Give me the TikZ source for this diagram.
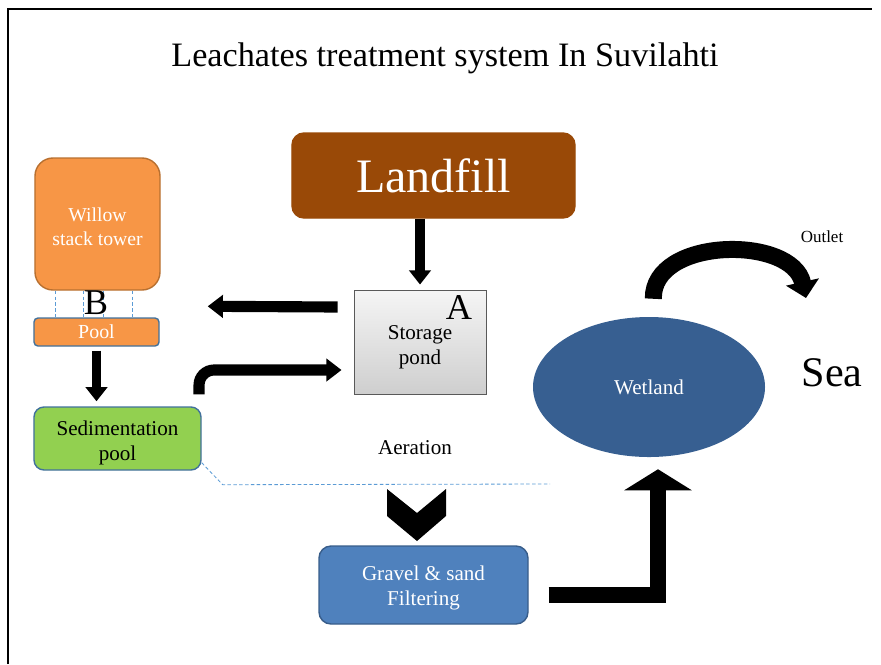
\documentclass[tikz,border=0pt]{standalone}
\usepackage{fontspec}
\setmainfont{Liberation Serif}
\usetikzlibrary{arrows.meta,shapes.geometric}
\definecolor{landbrown}{RGB}{153,73,7}
\definecolor{willoworange}{RGB}{247,150,70}
\definecolor{willowedge}{RGB}{184,112,48}
\definecolor{sedgreen}{RGB}{146,208,80}
\definecolor{edgeblue}{RGB}{65,113,156}
\definecolor{gravelblue}{RGB}{79,129,189}
\definecolor{graveledge}{RGB}{56,93,138}
\definecolor{wetblue}{RGB}{55,95,145}
\definecolor{dashblue}{RGB}{91,155,213}

\begin{document}
\begin{tikzpicture}[x=0.03cm, y=-0.03cm,
	stage node/.style={draw, line width=1.2pt, align=center, inner sep=0pt,
		font=\fontsize{18}{21.5}\selectfont},
	thick arrow/.style={line width=8.5pt, -{Triangle[width=18pt,length=12pt]}},
	dash line/.style={dashblue, line width=0.7pt, dash pattern=on 3pt off 2pt},
	big letter/.style={font=\fontsize{31}{31}\selectfont}]

	\useasboundingbox (0,0) rectangle (881,664);
	\draw[line width=2.5pt] (8,664) -- (8,9) -- (872,9);

	\node (title) at (445,58) {\fontsize{29.2}{32}\selectfont Leachates treatment system In Suvilahti};

	\node[stage node, fill=landbrown, draw=landbrown, text=white, rounded corners=0.36cm,
		minimum width=8.49cm, minimum height=2.55cm, font=\fontsize{41}{41}\selectfont]
		(landfill) at (433.5,175.5) {Landfill};
	\node[stage node, top color=gray!8, bottom color=gray!38, draw=gray!70!black, line width=0.8pt,
		minimum width=3.96cm, minimum height=3.12cm] (storage) at (420,342) {\rule{0pt}{21pt}Storage\\pond};
	\node[big letter] (a) at (459,308) {A};

	\node[stage node, fill=willoworange, draw=willowedge, text=white, rounded corners=0.54cm,
		minimum width=3.75cm, minimum height=3.96cm, font=\fontsize{16.8}{20.5}\selectfont]
		(willow) at (97.5,224) {\rule{0pt}{16pt}Willow\\stack tower};
	\node[stage node, fill=willoworange, draw=edgeblue, text=white, rounded corners=0.12cm,
		minimum width=3.75cm, minimum height=0.84cm, font=\fontsize{17}{17}\selectfont]
		(pool) at (96.5,332) {Pool};
	\foreach \x in {55,83,103,132}
		\draw[dash line] (willow.south -| \x,0) -- (pool.north -| \x,0);
	\node[big letter] (b) at (96,303) {B};

	\node[stage node, fill=sedgreen, draw=edgeblue, rounded corners=0.3cm,
		minimum width=5.01cm, minimum height=1.89cm] (sed) at (117.5,438.5) {\rule{0pt}{20pt}Sedimentation\\pool};

	\node[font=\fontsize{18}{18}\selectfont] (aeration) at (415,448) {Aeration};
	\draw[dash line] ([yshift=0.24cm]sed.south east) -- ++(21,22) -- (550,484);

	% aeration chevron
	\fill (387,489) -- (417,513) -- (446,489) -- (446,516) -- (417,541) -- (387,516) -- cycle;

	\node[stage node, fill=gravelblue, draw=graveledge, text=white, rounded corners=0.36cm,
		minimum width=6.27cm, minimum height=2.34cm] (gravel) at (423.5,585) {\rule{0pt}{18pt}Gravel \& sand\\Filtering};

	\node[ellipse, fill=wetblue, text=white, minimum width=6.96cm, minimum height=4.2cm,
		font=\fontsize{18}{18}\selectfont] (wetland) at (649,387) {Wetland};

	\node[font=\fontsize{14.5}{14.5}\selectfont] (outlet) at (822,237) {Outlet};
	\node[font=\fontsize{36}{36}\selectfont] (sea) at (832,373) {Sea};

	% flows
	\draw[thick arrow] (landfill.south -| storage.north) -- ([yshift=0.15cm]storage.north);
	\draw[thick arrow, line width=9.5pt, -{Triangle[width=19pt,length=13pt]}]
		([xshift=-0.48cm,yshift=1.05cm]storage.west) -- ([xshift=1.44cm,yshift=0.33cm]pool.north east);
	\draw[thick arrow, line width=9.5pt, rounded corners=0.45cm, -{Triangle[width=19pt,length=13pt]}]
		([xshift=-0.08cm,yshift=0.36cm]sed.north east) |- ([xshift=-0.36cm,yshift=-0.84cm]storage.west);
	\draw[thick arrow] ([yshift=-0.12cm]pool.south) -- ([yshift=0.15cm]sed.north -| pool.south);
	\draw[line width=13.7pt, miter limit=10, -{Triangle[width=57pt,length=18pt]}]
		([xshift=0.6cm,yshift=-0.3cm]gravel.east) -| ([xshift=0.27cm,yshift=-0.36cm]wetland.south);
	\draw[line width=14.5pt, -{Triangle[width=28pt,length=14pt]}]
		([xshift=0.13cm,yshift=0.54cm]wetland.north) .. controls (652,237) and (792,235) .. (806,298);

\end{tikzpicture}
\end{document}
